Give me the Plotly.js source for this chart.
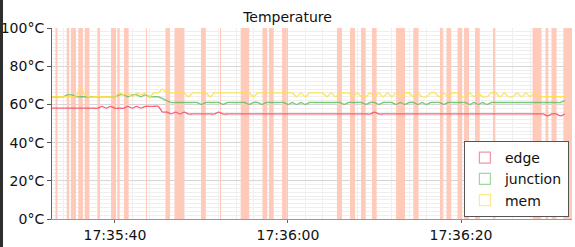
<!DOCTYPE html>
<html><head><meta charset="utf-8">
<script src="https://cdn.plot.ly/plotly-3.0.1.min.js"></script>
<style>
html,body{margin:0;padding:0;background:#fff;overflow:hidden;}
#strip{position:absolute;left:0;top:0;width:3px;height:247px;background:#2e2e2e;z-index:10;}
#chart{width:575px;height:247px;}
</style>
</head><body><div id="strip"></div><div id="chart"></div>
<script>
// Sampled series (every 0.5 s starting at 17:35:32.5)
const seriesStart = '2024-01-01 17:35:32.5';
const sampleStepMs = 500;
const seriesNames = ['edge', 'junction', 'mem'];

const edge = [58,58,58,58,58,58,58,58,58,58,58,58,
  59,58,59,58,58,58,59,58,59,58,59,59,59,59,
  56,56,55,56,55,56,55,
  55,55,55,55,55,55,
  56,
  55,55,55,55,55,55,55,55,55,55,55,55,55,55,55,55,55,55,55,55,55,55,55,55,55,55,55,55,55,55,55,55,55,55,55,
  56,
  55,55,55,55,55,55,55,55,55,55,55,55,55,55,55,55,55,55,55,55,55,55,55,55,55,55,55,55,55,55,55,55,55,55,55,55,55,55,55,
  54,55,55,54,55];

const junction = [64,64,64,64,65,65,64,64,64,64,64,64,64,64,64,64,
  65,65,64,65,65,64,65,64,64,64,63,62,61,
  61,61,61,61,61,61,60,61,61,61,61,60,61,61,61,61,61,60,61,61,60,
  61,61,61,61,61,60,61,60,61,60,
  61,61,61,61,61,61,61,61,60,61,61,61,61,60,61,61,60,61,61,61,
  60,61,60,61,61,60,61,60,61,61,61,60,61,
  61,61,61,61,60,61,60,61,60,
  61,61,61,61,61,61,61,61,61,61,61,61,61,61,61,61,61,62];

const mem = [64,64,64,64,64,64,64,69,65,64,64,64,64,64,64,64,
  66,65,66,64,66,65,66,64,66,66,68,66,
  66,66,66,66,64,66,66,66,66,64,66,66,66,66,66,66,66,66,66,64,
  66,66,66,66,66,66,66,66,66,64,66,64,66,66,66,66,
  64,66,64,66,66,66,64,66,64,64,66,64,66,64,66,64,66,
  64,66,66,64,66,64,64,66,66,64,66,64,66,66,64,64,66,64,66,64,
  64,66,66,64,66,64,64,66,64,66,64,66,64,64,64,64,64,64,64];

// Highlighted intervals (seconds after 17:35:00)
const bandStart = [33.12,34.42,34.91,35.76,36.50,38.00,39.54,40.27,41.04,43.58,45.84,46.88,49.94,52.14,54.53,57.05,57.80,59.31,65.66,67.17,68.44,69.71,72.49,74.49,77.57,78.32,79.60,80.35,81.62,83.70,88.27,89.77,90.46,91.83];
const bandEnd   = [33.35,34.72,35.49,36.30,37.05,38.27,40.12,40.54,41.58,43.70,46.36,48.00,50.50,52.26,55.53,57.61,58.35,59.86,66.24,67.75,68.98,70.25,73.53,75.09,77.90,78.87,80.14,80.92,82.17,83.93,89.31,90.09,91.04,92.90];

const xRangeSec = [32.72, 92.83];
const yRange = [0, 100];
const yTickValues = [0,20,40,60,80,100];
const yTickLabels = ['0°C','20°C','40°C','60°C','80°C','100°C'];

function secToTime(s){
  const m = 35 + Math.floor(s/60);
  const sec = s - Math.floor(s/60)*60;
  return '2024-01-01 17:' + String(m).padStart(2,'0') + ':' + sec.toFixed(3).padStart(6,'0');
}

const lineColors = ['rgba(245,80,110,0.9)','rgba(100,190,100,0.85)','rgba(255,225,70,0.9)'];
const legendColors = ['rgb(240,150,170)','rgb(160,215,160)','rgb(255,235,140)'];
const values = [edge, junction, mem];

const traces = [];
// bands: full-height bars on the main axis (drawn above its gridlines)
traces.push({type:'bar', showlegend:false, hoverinfo:'skip',
  x: bandStart.map((s,i)=>secToTime((s+bandEnd[i])/2)),
  width: bandStart.map((s,i)=>(bandEnd[i]-s)*1000),
  y: bandStart.map(()=>yRange[1]), base: yRange[0],
  marker:{color:'rgb(255,202,186)', line:{width:0}}});
// lines on an overlaid twin axis so they sit on top of the bands
values.forEach((v,k)=>{
  traces.push({type:'scatter', mode:'lines', yaxis:'y2', name:seriesNames[k], x0:seriesStart, dx:sampleStepMs, y:v,
    line:{color:lineColors[k], width:1.3, shape:'spline', smoothing:0.6}, showlegend:false, legendgroup:seriesNames[k], hoverinfo:'skip'});
});
values.forEach((v,k)=>{
  traces.push({type:'scatter', mode:'markers', yaxis:'y2', name:seriesNames[k], x:[null], y:[null], legendgroup:seriesNames[k],
    marker:{symbol:'square-open', size:11, color:legendColors[k], line:{width:1.2, color:legendColors[k]}}});
});

const layout = {
  width:575, height:247,
  margin:{l:52, r:3, t:28, b:28},
  paper_bgcolor:'#fff', plot_bgcolor:'#fff',
  font:{family:'DejaVu Sans', size:14, color:'#111'},
  title:{text:'Temperature', font:{size:14, color:'#111'}, x:0.5, xref:'container', y:0.93, yref:'container', yanchor:'middle'},
  xaxis:{type:'date', range:[secToTime(xRangeSec[0]), secToTime(xRangeSec[1])], tick0:'2024-01-01 17:35:00', dtick:20000,
    tickformat:'%H:%M:%S', showline:true, linecolor:'#999', ticks:'outside', ticklen:3, tickcolor:'#666',
    showgrid:true, gridcolor:'#d6d6d6', zeroline:false,
    minor:{dtick:2000, showgrid:true, gridcolor:'#efefef', ticks:''}, tickfont:{size:14}},
  yaxis:{range:yRange, tickmode:'array', tickvals:yTickValues, ticktext:yTickLabels, showline:true, linecolor:'#666', ticks:'outside', ticklen:4, tickcolor:'#555',
    showgrid:true, gridcolor:'#d6d6d6', zeroline:false,
    minor:{dtick:2, showgrid:true, gridcolor:'#efefef', ticks:''}, tickfont:{size:14}},
  yaxis2:{overlaying:'y', range:yRange, visible:false, showgrid:false, fixedrange:true},
  barmode:'overlay',
  showlegend:true,
  legend:{x:0.994, xanchor:'right', y:0.01, yanchor:'bottom', bgcolor:'#fff', bordercolor:'#555', borderwidth:1,
    font:{size:14, color:'#111'}, tracegroupgap:0, itemwidth:30}
};

Plotly.newPlot('chart', traces, layout, {displayModeBar:false, staticPlot:true});
</script>
</body></html>
